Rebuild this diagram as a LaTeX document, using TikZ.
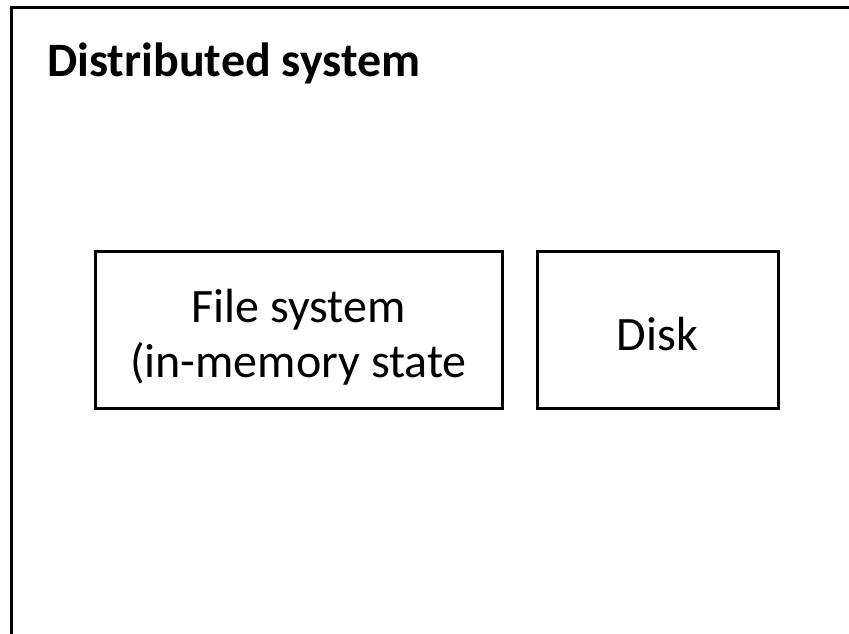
\documentclass[tikz,border=0pt]{standalone}
\usepackage{fontspec}
\setmainfont{Carlito}
\begin{document}
\begin{tikzpicture}[x=1pt,y=-1pt,
  box/.style={draw,line width=3pt,inner sep=0pt},
  txt/.style={inner sep=0pt,align=center,font=\fontsize{48}{55}\selectfont}]
\useasboundingbox (0,0) rectangle (849,633);
\clip (0,0) rectangle (849,633);
\draw[line width=3pt] (11,700) -- (11,7) -- (900,7);
\node[anchor=base west,font=\bfseries\fontsize{48}{55}\selectfont,inner sep=0pt] (title) at (47,76) {Distributed system};
\node[box,minimum width=407pt,minimum height=157pt] (fs) at (298.5,329.5) {};
\node[box,minimum width=241pt,minimum height=157pt] (disk) at (657.5,329.5) {};
\node[txt] (fstext) at ([yshift=-8pt]fs.center) {File system\\(in-memory state};
\node[txt] (disktext) at ([yshift=-5pt]disk.center) {Disk};
\end{tikzpicture}
\end{document}
